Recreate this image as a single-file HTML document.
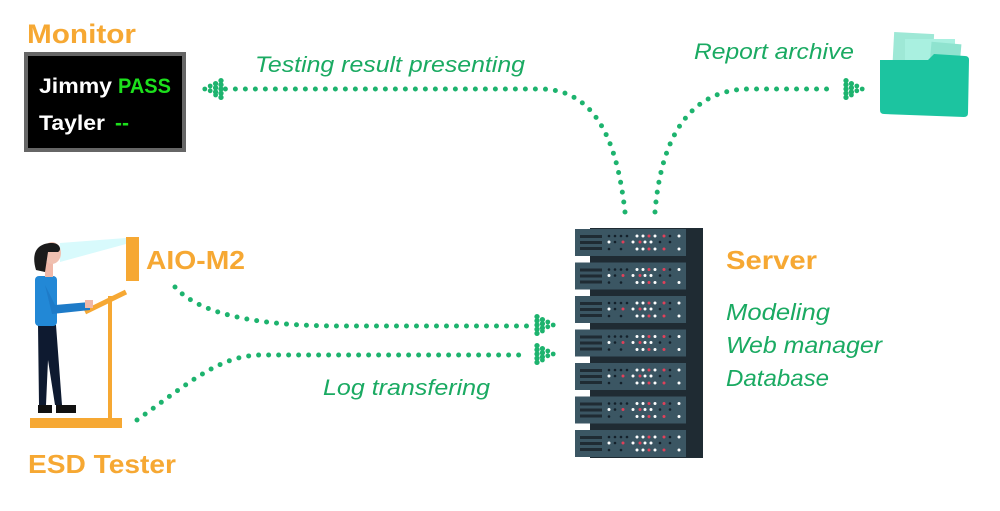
<!DOCTYPE html>
<html><head><meta charset="utf-8"><style>
html,body{margin:0;padding:0;background:#fff;width:1000px;height:511px;overflow:hidden}
svg{display:block}
.o{font-family:"Liberation Sans",sans-serif;font-weight:bold;fill:#F6A833}
.g{font-family:"Liberation Sans",sans-serif;font-style:italic;fill:#1AAA62}
.d{fill:none;stroke:#1DB36E;stroke-width:5;stroke-linecap:round;stroke-dasharray:0 10}
</style></head><body>
<svg width="1000" height="511" viewBox="0 0 1000 511">
<defs>
<g id="ah" fill="#1DB36E">
<circle cx="-15" cy="-7" r="2.2"/><circle cx="-15" cy="-3.5" r="2.2"/><circle cx="-15" cy="0" r="2.2"/><circle cx="-15" cy="3.5" r="2.2"/><circle cx="-15" cy="7" r="2.2"/>
<circle cx="-10.5" cy="-4.5" r="2.2"/><circle cx="-10.5" cy="-1" r="2.2"/><circle cx="-10.5" cy="2.5" r="2.2"/><circle cx="-10.5" cy="5" r="2"/>
<circle cx="-6" cy="-2.5" r="2"/><circle cx="-6" cy="1.5" r="2"/>
<circle cx="-1.5" cy="0" r="2"/>
</g>
</defs>
<text class="o" x="27" y="43" font-size="27" textLength="109" lengthAdjust="spacingAndGlyphs">Monitor</text>
<rect x="26" y="54" width="158" height="96" fill="#000" stroke="#666" stroke-width="4"/>
<text x="39" y="93" font-family="Liberation Sans,sans-serif" font-weight="bold" font-size="21" fill="#fff" textLength="73" lengthAdjust="spacingAndGlyphs">Jimmy</text>
<text x="118" y="93" font-family="Liberation Sans,sans-serif" font-weight="bold" font-size="21" fill="#1CE01C" textLength="53" lengthAdjust="spacingAndGlyphs">PASS</text>
<text x="39" y="130" font-family="Liberation Sans,sans-serif" font-weight="bold" font-size="21" fill="#fff" textLength="66" lengthAdjust="spacingAndGlyphs">Tayler</text>
<text x="115" y="130" font-family="Liberation Sans,sans-serif" font-weight="bold" font-size="21" fill="#1CE01C">--</text>
<text class="g" x="255" y="72" font-size="22" textLength="270" lengthAdjust="spacingAndGlyphs">Testing result presenting</text>
<text class="g" x="694" y="59" font-size="22" textLength="160" lengthAdjust="spacingAndGlyphs">Report archive</text>
<text class="g" x="323" y="395" font-size="22" textLength="167" lengthAdjust="spacingAndGlyphs">Log transfering</text>
<text class="o" x="726" y="269" font-size="26" textLength="91" lengthAdjust="spacingAndGlyphs">Server</text>
<text class="g" x="726" y="320" font-size="23" textLength="104" lengthAdjust="spacingAndGlyphs">Modeling</text>
<text class="g" x="726" y="353" font-size="23" textLength="156" lengthAdjust="spacingAndGlyphs">Web manager</text>
<text class="g" x="726" y="386" font-size="23" textLength="103" lengthAdjust="spacingAndGlyphs">Database</text>
<text class="o" x="146" y="269" font-size="26" textLength="99" lengthAdjust="spacingAndGlyphs">AIO-M2</text>
<text class="o" x="28" y="473" font-size="26" textLength="148" lengthAdjust="spacingAndGlyphs">ESD Tester</text>
<path class="d" d="M625,212 C618,150 600,89 540,89 L224,89"/>
<use href="#ah" transform="translate(203,89) scale(-1.2,1.2)"/>
<path class="d" d="M655,212 C660,150 682,89 750,89 L836,89"/>
<use href="#ah" transform="translate(864,89) scale(1.2)"/>
<path class="d" d="M175,287 C200,315 260,326 340,326 L528,326"/>
<use href="#ah" transform="translate(555,325) scale(1.2)"/>
<path class="d" d="M137,420 C190,382 220,355 262,355 L528,355"/>
<use href="#ah" transform="translate(555,354) scale(1.2)"/>
<rect x="893" y="33" width="40" height="45" fill="#9EE8D6" transform="rotate(3 913 55)"/>
<rect x="905" y="39" width="50" height="42" fill="#A9F0E0"/>
<rect x="930" y="43" width="30" height="40" fill="#8FE3CF" transform="rotate(5 945 60)"/>
<path d="M880,60 L928,60 L934,54 L965,56 Q969,56 969,60 L968,113 Q968,117 964,117 L884,114 Q880,114 880,110 Z" fill="#1CC4A0"/>
<g>
<rect x="686" y="228" width="17" height="230" fill="#1F2B33"/>
<rect x="590" y="228" width="100" height="230" fill="#1F2B33"/>
<g id="u">
<rect x="575" y="229" width="111" height="27" fill="#3B5663"/>
<rect x="580" y="235" width="22" height="3" fill="#1F2B33"/><rect x="580" y="241" width="22" height="3" fill="#1F2B33"/><rect x="580" y="247" width="22" height="3" fill="#1F2B33"/>
<g fill="#fff"><circle cx="637" cy="236" r="1.5"/><circle cx="643" cy="236" r="1.5"/><circle cx="655" cy="236" r="1.5"/><circle cx="679" cy="236" r="1.5"/><circle cx="609" cy="242" r="1.5"/><circle cx="633" cy="242" r="1.5"/><circle cx="645" cy="242" r="1.5"/><circle cx="651" cy="242" r="1.5"/><circle cx="637" cy="249" r="1.5"/><circle cx="643" cy="249" r="1.5"/><circle cx="655" cy="249" r="1.5"/><circle cx="679" cy="249" r="1.5"/></g>
<g fill="#E0405A"><circle cx="649" cy="236" r="1.5"/><circle cx="664" cy="236" r="1.5"/><circle cx="623" cy="242" r="1.5"/><circle cx="640" cy="242" r="1.5"/><circle cx="649" cy="249" r="1.5"/><circle cx="664" cy="249" r="1.5"/></g>
<g fill="#14202a"><circle cx="609" cy="236" r="1.3"/><circle cx="615" cy="236" r="1.3"/><circle cx="621" cy="236" r="1.3"/><circle cx="627" cy="236" r="1.3"/><circle cx="670" cy="236" r="1.3"/><circle cx="615" cy="242" r="1.3"/><circle cx="660" cy="242" r="1.3"/><circle cx="670" cy="242" r="1.3"/><circle cx="609" cy="249" r="1.3"/><circle cx="621" cy="249" r="1.3"/></g>
</g>
<use href="#u" y="33.5"/><use href="#u" y="67"/><use href="#u" y="100.5"/><use href="#u" y="134"/><use href="#u" y="167.5"/><use href="#u" y="201"/>
</g>
<polygon points="60,243 126,238 126,244 60,262" fill="#D8FAFC"/>
<rect x="126" y="237" width="13" height="44" fill="#F6A833"/>
<rect x="30" y="418" width="92" height="10" fill="#F6A833"/>
<rect x="108" y="296" width="4" height="122" fill="#F6A833"/>
<line x1="85" y1="312" x2="126" y2="292" stroke="#F6A833" stroke-width="5"/>
<path d="M38,325 L56,325 L62,405 L55,405 L48,360 L46,405 L39,405 Z" fill="#0E1A30"/>
<rect x="35" y="276" width="22" height="50" rx="4" fill="#2288D6"/>
<path d="M45,285 L55,305 L90,302 L90,310 L52,314 Z" fill="#1E7BC8"/>
<rect x="85" y="300" width="8" height="8" fill="#F0B8A8"/>
<rect x="45" y="262" width="8" height="15" fill="#F0B8A8"/>
<ellipse cx="52" cy="253" rx="9" ry="11" fill="#F0C0B0"/>
<path d="M36,270 C30,250 40,243 52,243 C60,243 62,250 58,252 L48,252 L45,272 Z" fill="#1B1B1B"/>
<rect x="38" y="405" width="14" height="8" fill="#111"/><rect x="56" y="405" width="20" height="8" fill="#111"/>
</svg>
</body></html>
